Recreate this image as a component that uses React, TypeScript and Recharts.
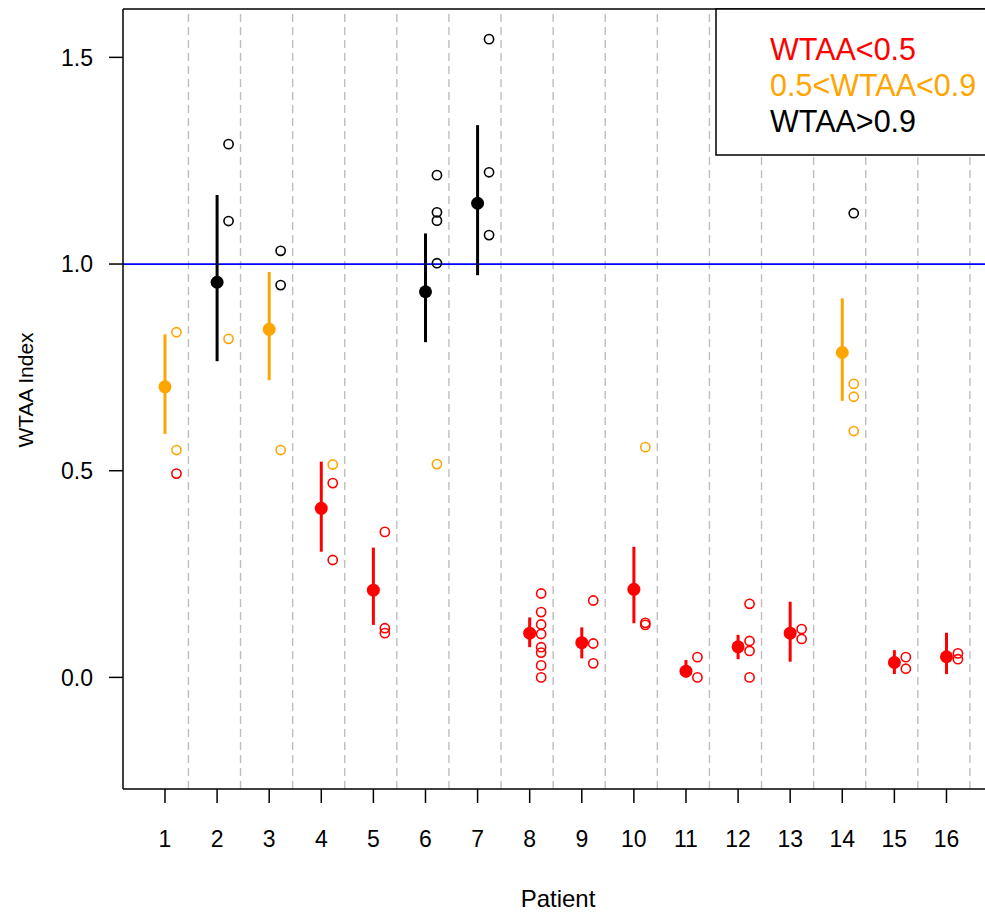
import React from 'react';
import {
  ComposedChart,
  Scatter,
  XAxis,
  YAxis,
  ReferenceLine,
  ErrorBar,
  Customized,
} from 'recharts';

// ---------------- data ----------------
const patients = [1, 2, 3, 4, 5, 6, 7, 8, 9, 10, 11, 12, 13, 14, 15, 16];
const meanValues = [0.703, 0.956, 0.842, 0.409, 0.211, 0.933, 1.147, 0.107, 0.084, 0.213, 0.015, 0.074, 0.107, 0.786, 0.036, 0.05];
const lowerValues = [0.589, 0.765, 0.719, 0.304, 0.127, 0.811, 0.973, 0.073, 0.046, 0.131, 0.0, 0.044, 0.038, 0.669, 0.008, 0.008];
const upperValues = [0.83, 1.167, 0.981, 0.522, 0.314, 1.074, 1.336, 0.145, 0.121, 0.316, 0.042, 0.103, 0.183, 0.917, 0.066, 0.108];
const observations = [
  [0.835, 0.55, 0.493],
  [1.29, 1.104, 0.819],
  [1.032, 0.949, 0.55],
  [0.515, 0.47, 0.284],
  [0.352, 0.119, 0.107],
  [1.215, 1.125, 1.105, 1.002, 0.516],
  [1.544, 1.222, 1.07],
  [0.203, 0.158, 0.128, 0.105, 0.073, 0.06, 0.029, 0.0],
  [0.186, 0.082, 0.034],
  [0.557, 0.132, 0.127],
  [0.049, 0.0],
  [0.178, 0.088, 0.064, 0.0],
  [0.117, 0.093],
  [1.123, 0.71, 0.679, 0.596],
  [0.049, 0.021],
  [0.058, 0.044],
];
const legendLabels = ['WTAA<0.5', '0.5<WTAA<0.9', 'WTAA>0.9'];
const groupColors = ['#FF0000', '#FFA500', '#000000'];
const yTicks = [0, 0.5, 1.0, 1.5];
const referenceValue = 1.0;

// ---------------- layout / style ----------------
const FONT = '"Liberation Sans", Arial, Helvetica, sans-serif';
const X_DOMAIN: [number, number] = [0.194, 16.893];
const Y_DOMAIN: [number, number] = [-0.27, 1.617];
const OBS_OFFSET = 0.22;
const DIVIDER_OFFSET = 0.45;

const groupOf = (v: number) => (v < 0.5 ? 0 : v < 0.9 ? 1 : 2);

const meanByGroup = [0, 1, 2].map((g) =>
  patients
    .map((p, i) => ({
      x: p,
      y: meanValues[i],
      err: [meanValues[i] - lowerValues[i], upperValues[i] - meanValues[i]],
    }))
    .filter((d) => groupOf(d.y) === g)
);

const obsByGroup = [0, 1, 2].map((g) =>
  patients
    .flatMap((p, i) => observations[i].map((v) => ({ x: p + OBS_OFFSET, y: v })))
    .filter((d) => groupOf(d.y) === g)
);

const dividers = patients.map((p) => p + DIVIDER_OFFSET);

const openCircle = (color: string) => (props: any) => {
  if (props.cx == null || props.cy == null) return <g />;
  return <circle cx={props.cx} cy={props.cy} r={4.6} fill="none" stroke={color} strokeWidth={1.6} />;
};

const filledCircle = (color: string) => (props: any) => {
  if (props.cx == null || props.cy == null) return <g />;
  return <circle cx={props.cx} cy={props.cy} r={6.5} fill={color} stroke="none" />;
};

const AxisTitles = () => (
  <g>
    <text x={558} y={907} textAnchor="middle" fontSize={24} fontFamily={FONT} fill="#000">
      Patient
    </text>
    <text
      x={0}
      y={0}
      transform="translate(33,390) rotate(-90)"
      textAnchor="middle"
      fontSize={21}
      fontFamily={FONT}
      fill="#000"
    >
      WTAA Index
    </text>
  </g>
);

const LegendOverlay = () => (
  <svg
    width={985}
    height={915}
    style={{ position: 'absolute', left: 0, top: 0, pointerEvents: 'none' }}
  >
    <rect x={716} y={9} width={300} height={146} fill="#ffffff" stroke="#000000" strokeWidth={1.5} />
    {legendLabels.map((lab, i) => (
      <text key={lab} x={770} y={60 + i * 36} fill={groupColors[i]} fontSize={30.5} fontFamily={FONT}>
        {lab}
      </text>
    ))}
  </svg>
);

export default function App() {
  return (
    <div
      style={{
        position: 'absolute',
        left: 0,
        top: 0,
        width: 985,
        height: 915,
        overflow: 'hidden',
        background: '#fff',
      }}
    >
      <ComposedChart width={993} height={915} margin={{ top: 9, right: 0, bottom: 0, left: 0 }}>
        <XAxis
          type="number"
          dataKey="x"
          domain={X_DOMAIN}
          ticks={patients}
          allowDataOverflow
          height={126}
          tickSize={14}
          tickMargin={28}
          tick={{ fontSize: 23, fill: '#000', fontFamily: FONT }}
          axisLine={{ stroke: '#000', strokeWidth: 1.5 }}
          tickLine={{ stroke: '#000', strokeWidth: 1.5 }}
        />
        <YAxis
          type="number"
          dataKey="y"
          domain={Y_DOMAIN}
          ticks={yTicks}
          allowDataOverflow
          width={123}
          tickSize={14}
          tickMargin={16}
          tickFormatter={(v: number) => v.toFixed(1)}
          tick={{ fontSize: 23, fill: '#000', fontFamily: FONT }}
          axisLine={{ stroke: '#000', strokeWidth: 1.5 }}
          tickLine={{ stroke: '#000', strokeWidth: 1.5 }}
        />
        {dividers.map((d) => (
          <ReferenceLine
            key={'div' + d}
            x={d}
            stroke="#bebebe"
            strokeWidth={1.4}
            strokeDasharray="8 5"
          />
        ))}
        <ReferenceLine y={referenceValue} stroke="#0000FF" strokeWidth={1.8} />
        <ReferenceLine y={Y_DOMAIN[1]} stroke="#000" strokeWidth={1.5} />
        {obsByGroup.map((data, g) => (
          <Scatter
            key={'obs' + g}
            data={data}
            dataKey="y"
            isAnimationActive={false}
            shape={openCircle(groupColors[g])}
          />
        ))}
        {meanByGroup.map((data, g) => (
          <Scatter
            key={'mean' + g}
            data={data}
            dataKey="y"
            isAnimationActive={false}
            shape={filledCircle(groupColors[g])}
          >
            <ErrorBar
              dataKey="err"
              direction="y"
              width={0}
              stroke={groupColors[g]}
              strokeWidth={3}
              isAnimationActive={false}
            />
          </Scatter>
        ))}
        <Customized component={AxisTitles} />
      </ComposedChart>
      <LegendOverlay />
    </div>
  );
}
